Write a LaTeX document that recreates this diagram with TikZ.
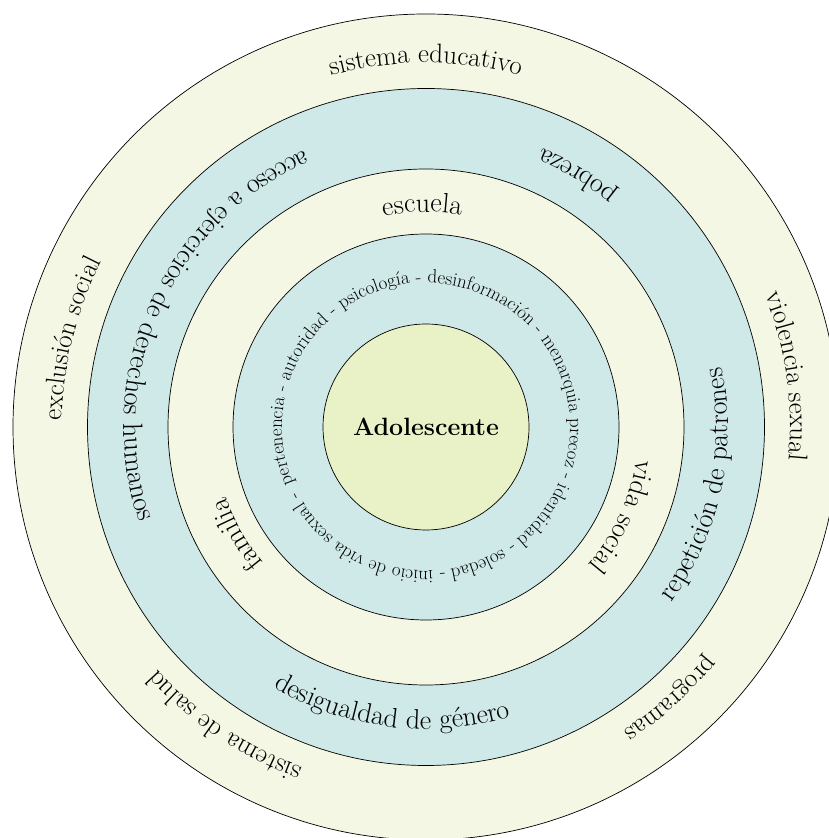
\documentclass[tikz,border=0pt]{standalone}
\usetikzlibrary{decorations.text}
\definecolor{ringcream}{RGB}{243,247,227}
\definecolor{ringblue}{RGB}{207,232,232}
\definecolor{corefill}{RGB}{233,241,199}
% label set clockwise along an arc (letters stand away from the centre)
\newcommand\cwlabel[4]{%
  \path[decorate, decoration={text along path, text align=center,
      text={|\fontsize{#3}{#3}\selectfont|#4}}]
    (c) ++(#1+70:#2) arc[start angle=#1+70, end angle=#1-70, radius=#2];}
% label set counter-clockwise along an arc (letters lean toward the centre)
\newcommand\ccwlabel[4]{%
  \path[decorate, decoration={text along path, text align=center,
      text={|\fontsize{#3}{#3}\selectfont|#4}}]
    (c) ++(#1-70:#2) arc[start angle=#1-70, end angle=#1+70, radius=#2];}
\begin{document}
\begin{tikzpicture}[x=1pt,y=1pt,
  ring/.style={circle, draw=black, line width=0.7pt, inner sep=0pt, minimum size=#1}]
\clip (0,0) rectangle (829,838);
\coordinate (c) at (426,411);

% concentric levels, outermost first
\node[ring=826pt, fill=ringcream] (system) at (c) {};
\node[ring=677pt, fill=ringblue] (rights) at (c) {};
\node[ring=516pt, fill=ringcream] (school) at (c) {};
\node[ring=386pt, fill=ringblue] (personal) at (c) {};
\node[ring=206pt, fill=corefill,
      font=\bfseries\fontsize{25}{29}\selectfont] (teen) at (c) {Adolescente};

% outer level
\cwlabel{90}{364}{27}{sistema educativo}
\cwlabel{8}{364}{27}{violencia sexual}
\cwlabel{-48}{362}{27}{programas}
\cwlabel{-124}{362}{27}{sistema de salud}
\cwlabel{166}{364}{27}{exclusión social}

% rights level
\ccwlabel{59}{302}{28}{pobreza}
\ccwlabel{-12}{302}{28}{repetición de patrones}
\ccwlabel{-97}{302}{28}{desigualdad de género}
\ccwlabel{156}{302}{28}{acceso a ejercicios de derechos humanos}

% school level
\cwlabel{91}{215}{28}{escuela}
\cwlabel{-24.5}{213}{28}{vida social}
\cwlabel{209.5}{212}{28}{familia}

% personal level, one text running all the way round
\path[decorate, decoration={text along path,
    text={|\fontsize{19}{21}\selectfont|pertenencia - autoridad - psicología - desinformación - menarquia precoz - identidad - soledad - inicio de vida sexual - }}]
  (c) ++(203:144) arc[start angle=203, end angle=-157, radius=144];
\end{tikzpicture}
\end{document}
